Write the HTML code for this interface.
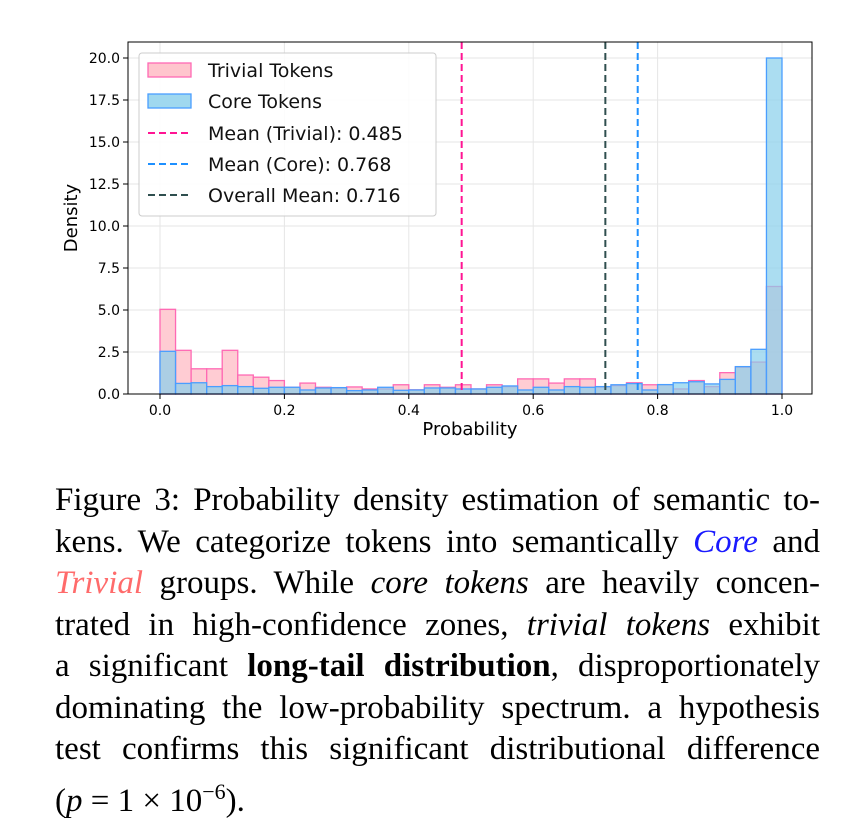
<!DOCTYPE html>
<html><head><meta charset="utf-8"><style>
html,body{margin:0;padding:0;background:#fff;width:842px;height:839px;overflow:hidden}
svg{position:absolute;left:0;top:0}
#cap{position:absolute;left:55px;top:480px;width:765px;font-family:"Liberation Serif",serif;font-size:33px;line-height:41.5px;color:#000}
#cap div{text-align:justify;text-align-last:justify;white-space:nowrap;height:41.5px}
#cap div.last{text-align-last:left}
</style></head><body>
<svg id="chart" width="842" height="470" font-family="DejaVu Sans, Liberation Sans, sans-serif"></svg>
<div id="cap">
<div>Figure 3: Probability density estimation of semantic to-</div>
<div>kens. We categorize tokens into semantically <i style="color:#1a1aff">Core</i> and</div>
<div><i style="color:#ff6b6b">Trivial</i> groups. While <i>core tokens</i> are heavily concen-</div>
<div>trated in high-confidence zones, <i>trivial tokens</i> exhibit</div>
<div>a significant <b>long-tail distribution</b>, disproportionately</div>
<div>dominating the low-probability spectrum. a hypothesis</div>
<div>test confirms this significant distributional difference</div>
<div class="last">(<i>p</i> = 1 × 10<sup style="font-size:22px">−6</sup>).</div>
</div>
<script>
const trivial=[5.04,2.6,1.5,1.5,2.6,1.13,1.0,0.8,0.4,0.65,0.4,0.35,0.42,0.3,0.3,0.55,0.25,0.55,0.4,0.55,0.3,0.55,0.44,0.9,0.9,0.65,0.9,0.9,0.42,0.5,0.67,0.55,0.55,0.3,0.8,0.44,1.27,1.6,1.9,6.4];
const core=[2.54,0.63,0.67,0.44,0.5,0.44,0.34,0.4,0.4,0.24,0.36,0.38,0.2,0.24,0.4,0.22,0.24,0.36,0.36,0.3,0.3,0.4,0.48,0.24,0.4,0.24,0.44,0.4,0.44,0.55,0.62,0.24,0.56,0.67,0.73,0.6,0.87,1.63,2.66,20.0];
const xTicks=[0,0.2,0.4,0.6,0.8,1.0];
const yTicks=[0,2.5,5,7.5,10,12.5,15,17.5,20];
const means=[0.485,0.768,0.716];
const meanColors=["#ff1493","#1e90ff","#2f4f4f"];
const legendLabels=["Trivial Tokens","Core Tokens","Mean (Trivial): 0.485","Mean (Core): 0.768","Overall Mean: 0.716"];
const X=v=>160+v*622, Y=v=>394-v*16.8;
const svg=document.getElementById('chart');const NS="http://www.w3.org/2000/svg";
function mk(t,a,p){const e=document.createElementNS(NS,t);for(const k in a)e.setAttribute(k,a[k]);(p||svg).appendChild(e);return e;}
xTicks.forEach(t=>{const g=mk('line',{x1:X(t),x2:X(t),y1:42,y2:394,stroke:'#e6e6e6','stroke-width':1});});
yTicks.forEach(t=>{const g=mk('line',{x1:128,x2:812,y1:Y(t),y2:Y(t),stroke:'#e6e6e6','stroke-width':1});});
const w=1/40;
trivial.forEach((v,i)=>{const r=mk('rect',{x:X(i*w),y:Y(v),width:X(w)-X(0),height:Y(0)-Y(v),fill:'rgba(255,182,193,0.7)',stroke:'#ff69b4','stroke-width':1.3});});
core.forEach((v,i)=>{const r=mk('rect',{x:X(i*w),y:Y(v),width:X(w)-X(0),height:Y(0)-Y(v),fill:'rgba(135,206,235,0.7)',stroke:'#4a9eff','stroke-width':1.3});});
means.forEach((m,i)=>{const l=mk('line',{x1:X(m),x2:X(m),y1:42,y2:394,stroke:meanColors[i],'stroke-width':2,'stroke-dasharray':'7,4'});});
const fr=mk('rect',{x:128,y:42,width:684,height:352,fill:'none',stroke:'#000','stroke-width':1});

xTicks.forEach(t=>{mk('line',{x1:X(t),x2:X(t),y1:394,y2:399,stroke:'#000'});const tx=mk('text',{x:X(t),y:415,'text-anchor':'middle','font-size':14});tx.textContent=t.toFixed(1);});
yTicks.forEach(t=>{mk('line',{x1:123,x2:128,y1:Y(t),y2:Y(t),stroke:'#000'});const tx=mk('text',{x:120,y:Y(t)+5,'text-anchor':'end','font-size':14});tx.textContent=t.toFixed(1);});
const xl=mk('text',{x:470,y:435,'text-anchor':'middle','font-size':18});xl.textContent='Probability';
const yl=mk('text',{x:0,y:0,'text-anchor':'middle','font-size':18,transform:'translate(77,218) rotate(-90)'});yl.textContent='Density';
const lg=mk('g',{});
mk('rect',{x:139,y:53,width:297,height:163,rx:3,fill:'rgba(255,255,255,0.85)',stroke:'#ccc'},lg);
const rowsY=[70,101,133,164,195];
legendLabels.forEach((s,i)=>{const cy=rowsY[i];
 if(i==0)mk('rect',{x:148,y:cy-7,width:43,height:14,fill:'rgba(255,182,193,0.8)',stroke:'#ff69b4','stroke-width':1.3},lg);
 else if(i==1)mk('rect',{x:148,y:cy-7,width:43,height:14,fill:'rgba(135,206,235,0.8)',stroke:'#4a9eff','stroke-width':1.3},lg);
 else mk('line',{x1:148,x2:191,y1:cy,y2:cy,stroke:meanColors[i-2],'stroke-width':2,'stroke-dasharray':'7,4'},lg);
 const t=mk('text',{x:208,y:cy+7,'font-size':19,fill:'#111'},lg);t.textContent=s;
 });
</script>
</body></html>
